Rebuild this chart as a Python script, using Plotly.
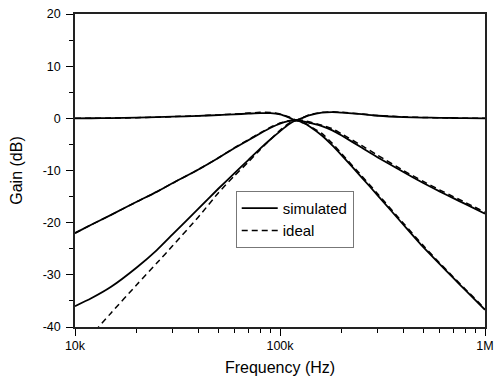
import plotly.graph_objects as go

freq = [10e3, 12e3, 15e3, 20e3, 25e3, 30e3, 40e3, 50e3, 60e3, 70e3, 80e3, 90e3,
        100e3, 110e3, 120e3, 130e3, 140e3, 160e3, 180e3, 200e3, 250e3, 300e3,
        400e3, 500e3, 600e3, 700e3, 800e3, 1e6]

# Flat (all-pass like) response, gain in dB
flat_sim = [0.0, 0.02, 0.05, 0.12, 0.22, 0.32, 0.47, 0.62, 0.77, 0.9, 1.0, 1.0,
            0.75, 0.2, -0.4, 0.15, 0.6, 1.1, 1.2, 1.1, 0.8, 0.5,
            0.25, 0.15, 0.1, 0.06, 0.03, 0.0]
flat_ideal = [0.0, 0.02, 0.05, 0.12, 0.22, 0.33, 0.5, 0.66, 0.82, 1.0, 1.15, 1.12,
              0.85, 0.3, -0.3, 0.2, 0.7, 1.15, 1.25, 1.15, 0.85, 0.55,
              0.28, 0.17, 0.1, 0.06, 0.03, 0.0]

# Second-order band-pass response, gain in dB
bp2_sim = [-22.0, -20.4, -18.5, -16.0, -14.1, -12.4, -9.8, -7.6, -5.7, -4.2, -2.9, -1.8,
           -1.0, -0.55, -0.4, -0.6, -0.9, -1.5, -2.3, -3.3, -5.6, -7.5,
           -10.3, -12.4, -14.0, -15.3, -16.4, -18.3]
bp2_ideal = [-22.0, -20.4, -18.5, -16.0, -14.1, -12.4, -9.8, -7.6, -5.6, -4.1, -2.8, -1.7,
             -0.9, -0.45, -0.3, -0.4, -0.7, -1.3, -2.0, -3.0, -5.2, -7.1,
             -10.0, -12.1, -13.7, -15.0, -16.1, -18.0]

# Fourth-order band-pass response, gain in dB
bp4_sim = [-36.0, -34.5, -32.3, -28.6, -25.3, -22.2, -17.3, -13.5, -10.5, -8.0, -5.8, -4.0,
           -2.5, -1.2, -0.4, -0.9, -1.6, -3.3, -5.2, -7.1, -11.3, -14.8,
           -20.4, -24.7, -27.9, -30.6, -32.9, -36.7]
bp4_ideal = [-45.0, -41.6, -37.3, -31.9, -27.8, -24.4, -18.9, -14.3, -11.0, -8.4, -6.0, -4.0,
             -2.3, -1.0, -0.4, -0.7, -1.5, -2.9, -4.8, -6.8, -11.0, -14.5,
             -20.1, -24.4, -27.7, -30.4, -32.7, -36.5]

x_tickvals = [1e4, 1e5, 1e6]
x_ticktext = ["10k", "100k", "1M"]
x_minor = [2e4, 3e4, 4e4, 5e4, 6e4, 7e4, 8e4, 9e4, 2e5, 3e5, 4e5, 5e5, 6e5, 7e5, 8e5, 9e5]

y_tickvals = [-40, -30, -20, -10, 0, 10, 20]
y_ticktext = ["-40", "-30", "-20", "-10", "0", "10", "20"]

FONT = "Liberation Sans, Arial, sans-serif"

fig = go.Figure()
sim_sets = [flat_sim, bp2_sim, bp4_sim]
ideal_sets = [flat_ideal, bp2_ideal, bp4_ideal]
for i, ys in enumerate(sim_sets):
    fig.add_trace(go.Scatter(x=freq, y=ys, mode="lines", name="simulated",
                             showlegend=(i == 0),
                             line=dict(color="black", width=1.8, shape="spline", smoothing=0.6)))
for i, ys in enumerate(ideal_sets):
    fig.add_trace(go.Scatter(x=freq, y=ys, mode="lines", name="ideal",
                             showlegend=(i == 0),
                             line=dict(color="black", width=1.5, dash="6px,4px",
                                       shape="spline", smoothing=0.6)))

fig.update_layout(
    width=494, height=381,
    margin=dict(l=75, r=9, t=14, b=54),
    paper_bgcolor="white", plot_bgcolor="white",
    font=dict(family=FONT, color="black", size=12.5),
    showlegend=True,
    legend=dict(x=0.392, y=0.435, xanchor="left", yanchor="top",
                bgcolor="white", bordercolor="#777", borderwidth=1,
                font=dict(size=15, family=FONT), tracegroupgap=0,
                itemwidth=36),
)
fig.update_xaxes(
    type="log", range=[4, 6], automargin=False,
    tickmode="array", tickvals=x_tickvals, ticktext=x_ticktext,
    ticks="outside", ticklen=7, tickwidth=1, tickcolor="black",
    minor=dict(tickmode="array", tickvals=x_minor, ticks="outside", ticklen=4,
               tickwidth=1, tickcolor="black", showgrid=False),
    showline=True, linecolor="#222", linewidth=1.5, mirror=True,
    showgrid=False, zeroline=False,
    title=dict(text="Frequency (Hz)", font=dict(size=16, family=FONT), standoff=10),
    tickfont=dict(size=12.5, family=FONT), ticklabelstandoff=-1,
)
fig.update_yaxes(
    range=[-40, 20], automargin=False,
    tickmode="array", tickvals=y_tickvals, ticktext=y_ticktext,
    ticks="outside", ticklen=7, tickwidth=1, tickcolor="black",
    minor=dict(dtick=5, ticks="outside", ticklen=4, tickwidth=1, tickcolor="black",
               showgrid=False),
    showline=True, linecolor="#222", linewidth=1.5, mirror=True,
    showgrid=False, zeroline=False,
    title=dict(text="Gain (dB)", font=dict(size=16, family=FONT), standoff=16),
    tickfont=dict(size=12.5, family=FONT), ticklabelstandoff=3,
)

fig.write_html(
    "out.html",
    config={"displayModeBar": False},
    post_script="document.body.style.margin='0';document.body.style.overflow='hidden';",
)
